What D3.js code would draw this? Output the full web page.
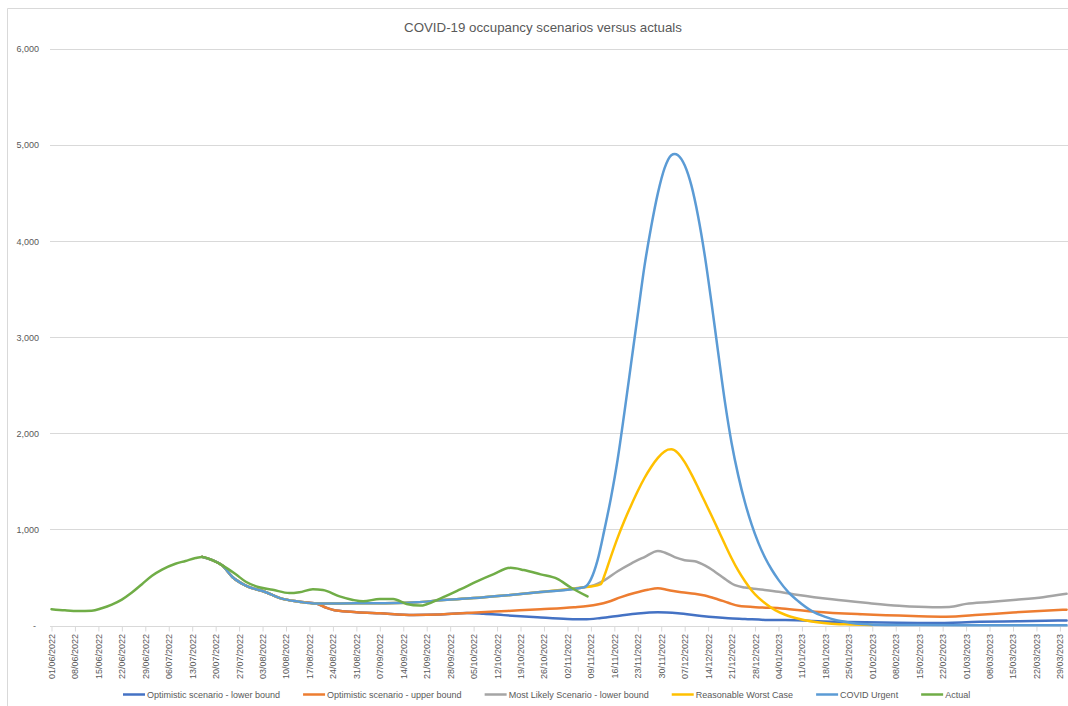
<!DOCTYPE html>
<html>
<head>
<meta charset="utf-8">
<script src="https://cdnjs.cloudflare.com/ajax/libs/d3/7.8.5/d3.min.js"></script>
<style>
  html, body { margin: 0; padding: 0; background: #ffffff; }
  svg { display: block; font-family: "Liberation Sans", Arial, sans-serif; }
</style>
</head>
<body>
<svg id="chart" width="1068" height="706"></svg>
<script>
// ---- Data (occupied beds, by date) ----
const chartTitle = "COVID-19 occupancy scenarios versus actuals";

const seriesNames = [
  "Optimistic scenario - lower bound",
  "Optimistic scenario - upper bound",
  "Most Likely Scenario - lower bound",
  "Reasonable Worst Case",
  "COVID Urgent",
  "Actual"
];
const seriesColors = ["#4472C4", "#ED7D31", "#A5A5A5", "#FFC000", "#5B9BD5", "#70AD47"];

const yTicks = [0, 1000, 2000, 3000, 4000, 5000, 6000];
const xStart = "01/06/2022";
const xEnd = "31/03/2023";

const actual = [
  ["01/06/2022",170],["05/06/2022",158],["09/06/2022",151],["13/06/2022",153],["16/06/2022",180],
  ["19/06/2022",218],["22/06/2022",270],["25/06/2022",343],["28/06/2022",430],["01/07/2022",518],
  ["04/07/2022",582],["08/07/2022",643],["11/07/2022",672],["14/07/2022",702],["16/07/2022",714],
  ["19/07/2022",680],["22/07/2022",625],["26/07/2022",533],["29/07/2022",455],["02/08/2022",398],
  ["06/08/2022",372],["11/08/2022",337],["14/08/2022",346],["18/08/2022",377],["21/08/2022",370],
  ["26/08/2022",303],["30/08/2022",266],["02/09/2022",252],["07/09/2022",276],["11/09/2022",275],
  ["15/09/2022",224],["19/09/2022",207],["25/09/2022",280],["01/10/2022",375],["06/10/2022",460],
  ["11/10/2022",535],["16/10/2022",600],["20/10/2022",577],["25/10/2022",532],["30/10/2022",485],
  ["03/11/2022",395],["08/11/2022",302]
];

const covidUrgent = [
  ["16/07/2022",714],["19/07/2022",680],["22/07/2022",625],["25/07/2022",505],["29/07/2022",415],
  ["04/08/2022",346],["08/08/2022",288],["14/08/2022",247],["19/08/2022",228],["26/08/2022",230],
  ["05/09/2022",231],["18/09/2022",242],["25/09/2022",262],["05/10/2022",285],["15/10/2022",315],
  ["25/10/2022",348],["07/11/2022",398],["09/11/2022",480],["11/11/2022",680],["13/11/2022",990],
  ["15/11/2022",1330],["17/11/2022",1730],["19/11/2022",2215],["21/11/2022",2725],["23/11/2022",3235],
  ["25/11/2022",3740],["27/11/2022",4150],["29/11/2022",4500],["01/12/2022",4760],["03/12/2022",4895],
  ["04/12/2022",4908],["05/12/2022",4895],["07/12/2022",4790],["09/12/2022",4580],["11/12/2022",4260],
  ["13/12/2022",3850],["15/12/2022",3360],["17/12/2022",2840],["19/12/2022",2330],["21/12/2022",1900],
  ["23/12/2022",1560],["25/12/2022",1280],["27/12/2022",1050],["29/12/2022",860],["31/12/2022",705],
  ["02/01/2023",580],["04/01/2023",475],["07/01/2023",345],["10/01/2023",250],["14/01/2023",150],
  ["18/01/2023",90],["21/01/2023",57],["25/01/2023",32],["29/01/2023",16],["05/02/2023",6],
  ["15/02/2023",4],["01/03/2023",3],["31/03/2023",3]
];

const optimisticUpper = [
  ["16/07/2022",714],["19/07/2022",680],["22/07/2022",625],["25/07/2022",505],["29/07/2022",415],
  ["04/08/2022",346],["08/08/2022",288],["14/08/2022",247],["19/08/2022",228],["22/08/2022",185],
  ["25/08/2022",155],["31/08/2022",139],["07/09/2022",127],["17/09/2022",110],["25/09/2022",115],
  ["03/10/2022",130],["15/10/2022",151],["25/10/2022",169],["04/11/2022",190],["08/11/2022",203],
  ["14/11/2022",245],["18/11/2022",295],["22/11/2022",338],["26/11/2022",372],["29/11/2022",387],
  ["02/12/2022",370],["06/12/2022",345],["10/12/2022",330],["13/12/2022",312],["17/12/2022",271],
  ["20/12/2022",237],["23/12/2022",205],["30/12/2022",188],["05/01/2023",178],["15/01/2023",144],
  ["29/01/2023",117],["13/02/2023",99],["23/02/2023",92],["05/03/2023",112],["15/03/2023",135],
  ["31/03/2023",165]
];

const optimisticLower = [
  ["16/07/2022",714],["19/07/2022",680],["22/07/2022",625],["25/07/2022",505],["29/07/2022",415],
  ["04/08/2022",346],["08/08/2022",288],["14/08/2022",247],["19/08/2022",228],["22/08/2022",185],
  ["25/08/2022",155],["31/08/2022",139],["07/09/2022",127],["17/09/2022",110],["25/09/2022",115],
  ["03/10/2022",130],["08/10/2022",122],["14/10/2022",108],["24/10/2022",86],["02/11/2022",68],
  ["07/11/2022",64],["12/11/2022",78],["18/11/2022",105],["23/11/2022",125],["29/11/2022",137],
  ["05/12/2022",127],["12/12/2022",99],["20/12/2022",76],["25/12/2022",68],["31/12/2022",58],
  ["06/01/2023",56],["20/01/2023",40],["04/02/2023",30],["19/02/2023",25],["05/03/2023",38],
  ["17/03/2023",45],["31/03/2023",52]
];

const mostLikelyLower = [
  ["16/07/2022",714],["19/07/2022",680],["22/07/2022",625],["25/07/2022",505],["29/07/2022",415],
  ["04/08/2022",346],["08/08/2022",288],["14/08/2022",247],["19/08/2022",228],["26/08/2022",230],
  ["05/09/2022",231],["18/09/2022",242],["25/09/2022",262],["05/10/2022",285],["15/10/2022",315],
  ["25/10/2022",348],["07/11/2022",398],["10/11/2022",420],["13/11/2022",470],["17/11/2022",565],
  ["21/11/2022",645],["25/11/2022",712],["29/11/2022",775],["01/12/2022",760],["04/12/2022",712],
  ["07/12/2022",680],["10/12/2022",668],["13/12/2022",625],["16/12/2022",560],["19/12/2022",485],
  ["22/12/2022",420],["25/12/2022",395],["29/12/2022",378],["04/01/2023",352],["10/01/2023",318],
  ["20/01/2023",272],["30/01/2023",236],["09/02/2023",205],["19/02/2023",190],["24/02/2023",192],
  ["01/03/2023",225],["08/03/2023",245],["16/03/2023",268],["24/03/2023",295],["31/03/2023",330]
];

const worstCase = [
  ["16/07/2022",714],["19/07/2022",680],["22/07/2022",625],["25/07/2022",505],["29/07/2022",415],
  ["04/08/2022",346],["08/08/2022",288],["14/08/2022",247],["19/08/2022",228],["26/08/2022",230],
  ["05/09/2022",231],["18/09/2022",242],["25/09/2022",262],["05/10/2022",285],["15/10/2022",315],
  ["25/10/2022",348],["07/11/2022",398],["09/11/2022",405],["12/11/2022",430],["13/11/2022",515],
  ["15/11/2022",720],["17/11/2022",915],["19/11/2022",1090],["21/11/2022",1250],["23/11/2022",1400],
  ["25/11/2022",1535],["27/11/2022",1650],["29/11/2022",1745],["01/12/2022",1810],["02/12/2022",1830],
  ["03/12/2022",1835],["05/12/2022",1795],["07/12/2022",1700],["09/12/2022",1575],["11/12/2022",1435],
  ["13/12/2022",1290],["15/12/2022",1145],["17/12/2022",995],["19/12/2022",845],["21/12/2022",700],
  ["23/12/2022",570],["25/12/2022",460],["27/12/2022",365],["29/12/2022",290],["31/12/2022",232],
  ["03/01/2023",160],["06/01/2023",112],["10/01/2023",70],["14/01/2023",42],["19/01/2023",22],
  ["24/01/2023",12],["01/02/2023",5]
];

// drawing order: first listed is drawn underneath
const seriesData = [optimisticLower, optimisticUpper, mostLikelyLower, worstCase, covidUrgent, actual];

// ---- Chart ----
const parse = d3.timeParse("%d/%m/%Y");
const fmtDate = d3.timeFormat("%d/%m/%Y");
const svg = d3.select("#chart");
const W = 1068, H = 706;
const textColor = "#595959";
const gridColor = "#D9D9D9";

const plotLeft = 50, plotRight = 1075;
const x = d3.scaleTime()
  .domain([parse(xStart), parse(xEnd)])
  .range([51.5, 1066.6]);
const y = d3.scaleLinear()
  .domain([0, 6000])
  .range([625.5, 49]);

// chart area frame
svg.append("path")
  .attr("d", `M7.5,${H + 2} V8.5 H${W + 2}`)
  .attr("fill", "none")
  .attr("stroke", gridColor)
  .attr("stroke-width", 1);

// title
svg.append("text")
  .attr("x", 543)
  .attr("y", 31.5)
  .attr("text-anchor", "middle")
  .attr("font-size", 13.3)
  .attr("fill", textColor)
  .text(chartTitle);

// horizontal gridlines
svg.append("g")
  .selectAll("line")
  .data(yTicks.filter(d => d > 0))
  .join("line")
  .attr("x1", plotLeft).attr("x2", plotRight)
  .attr("y1", d => Math.round(y(d)) + 0.5)
  .attr("y2", d => Math.round(y(d)) + 0.5)
  .attr("stroke", gridColor)
  .attr("stroke-width", 1);

// y axis labels
const yAxis = d3.axisLeft(y)
  .tickValues(yTicks)
  .tickSize(0)
  .tickPadding(0)
  .tickFormat(d => d === 0 ? "-" : d3.format(",")(d));
const gy = svg.append("g").attr("transform", "translate(39,0)").call(yAxis);
gy.select(".domain").remove();
gy.selectAll("text")
  .attr("fill", textColor)
  .attr("font-size", 9)
  .attr("font-family", "Liberation Sans, Arial, sans-serif");
gy.selectAll(".tick").filter(d => d === 0).select("text").attr("x", -3);

// x axis: a tick and label every 7 days
const weekTicks = d3.timeDay.range(parse(xStart), d3.timeDay.offset(parse(xEnd), 1), 7);
const xAxis = d3.axisBottom(x)
  .tickValues(weekTicks)
  .tickSize(5)
  .tickSizeOuter(0)
  .tickFormat(fmtDate);
const gx = svg.append("g")
  .attr("transform", `translate(0,${Math.round(y(0)) + 0.5})`)
  .call(xAxis);
gx.select(".domain")
  .attr("d", `M${plotLeft},0H${plotRight}`)
  .attr("stroke", gridColor);
gx.selectAll(".tick line").attr("stroke", gridColor);
gx.selectAll(".tick text")
  .attr("fill", textColor)
  .attr("font-size", 9)
  .attr("font-family", "Liberation Sans, Arial, sans-serif")
  .attr("text-anchor", "end")
  .attr("transform", "rotate(-90)")
  .attr("x", -7.5)
  .attr("y", 0)
  .attr("dy", "0.33em");

// series lines
const line = d3.line()
  .x(d => x(parse(d[0])))
  .y(d => y(d[1]))
  .curve(d3.curveMonotoneX);

svg.append("g")
  .selectAll("path")
  .data(seriesData)
  .join("path")
  .attr("d", d => line(d))
  .attr("fill", "none")
  .attr("stroke", (d, i) => seriesColors[i])
  .attr("stroke-width", 2.5)
  .attr("stroke-linejoin", "round")
  .attr("stroke-linecap", "round");

// legend
const legend = svg.append("g").attr("transform", "translate(0,694.5)");
let lx = 123;
seriesNames.forEach((name, i) => {
  const g = legend.append("g").attr("transform", `translate(${lx},0)`);
  g.append("line")
    .attr("x1", 0).attr("x2", 22)
    .attr("stroke", seriesColors[i])
    .attr("stroke-width", 2.5);
  const t = g.append("text")
    .attr("x", 24)
    .attr("y", 0)
    .attr("dy", "0.35em")
    .attr("font-size", 9)
    .attr("fill", textColor)
    .text(name);
  lx += 24 + t.node().getComputedTextLength() + 23;
});
</script>
</body>
</html>
